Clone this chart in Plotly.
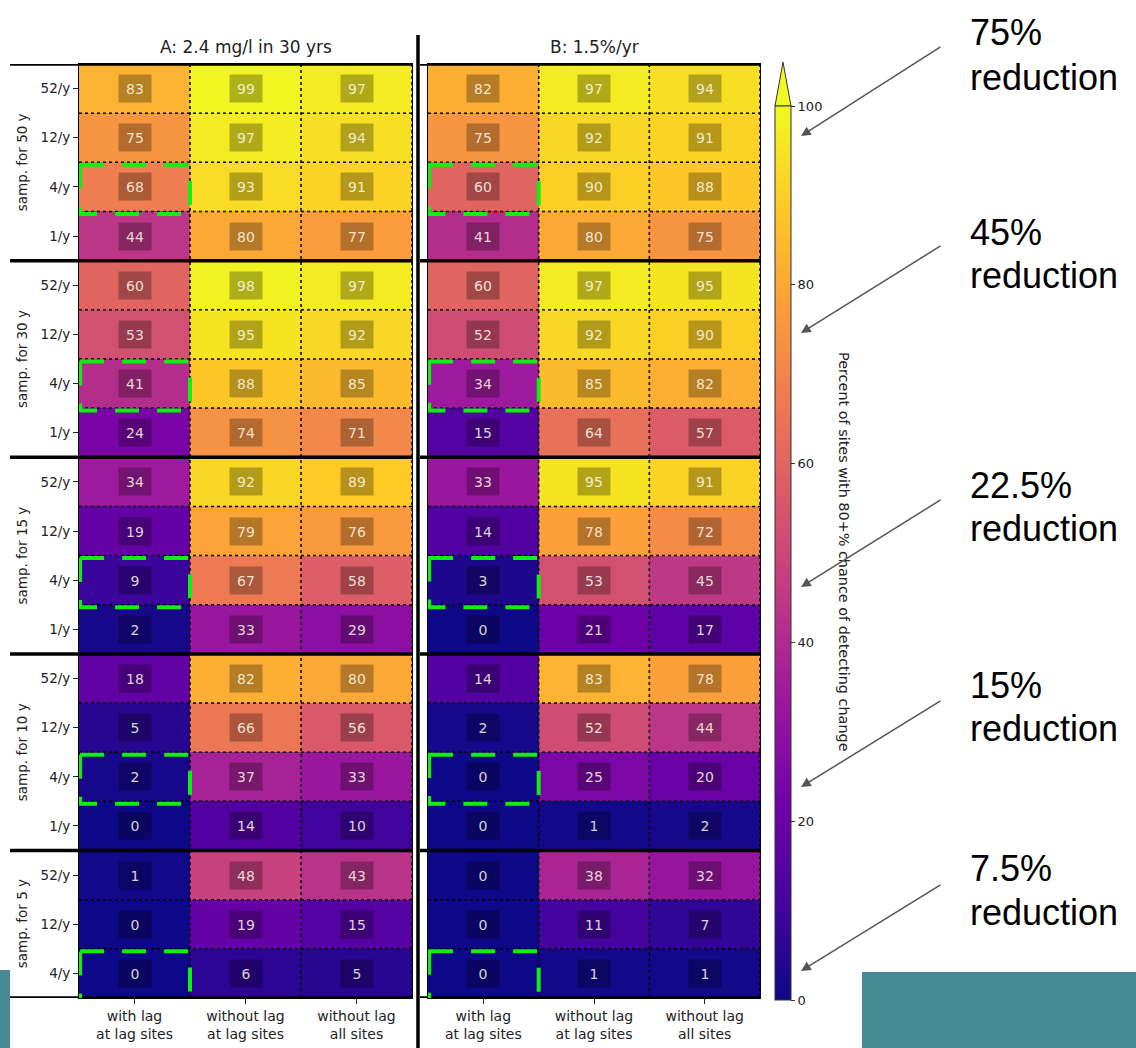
import plotly.graph_objects as go

W, H = 1136, 1048

# ---------------- data ----------------
row_labels = ["52/y", "12/y", "4/y", "1/y",
              "52/y", "12/y", "4/y", "1/y",
              "52/y", "12/y", "4/y", "1/y",
              "52/y", "12/y", "4/y", "1/y",
              "52/y", "12/y", "4/y"]
group_labels = ["samp. for 50 y", "samp. for 30 y", "samp. for 15 y",
                "samp. for 10 y", "samp. for 5 y"]
group_sizes = [4, 4, 4, 4, 3]
col_labels = ["with lag<br>at lag sites", "without lag<br>at lag sites",
              "without lag<br>all sites"]

a_with_lag = [83, 75, 68, 44, 60, 53, 41, 24, 34, 19, 9, 2, 18, 5, 2, 0, 1, 0, 0]
a_nolag_lagsites = [99, 97, 93, 80, 98, 95, 88, 74, 92, 79, 67, 33, 82, 66, 37, 14, 48, 19, 6]
a_nolag_all = [97, 94, 91, 77, 97, 92, 85, 71, 89, 76, 58, 29, 80, 56, 33, 10, 43, 15, 5]

b_with_lag = [82, 75, 60, 41, 60, 52, 34, 15, 33, 14, 3, 0, 14, 2, 0, 0, 0, 0, 0]
b_nolag_lagsites = [97, 92, 90, 80, 97, 92, 85, 64, 95, 78, 53, 21, 83, 52, 25, 1, 38, 11, 1]
b_nolag_all = [94, 91, 88, 75, 95, 90, 82, 57, 91, 72, 45, 17, 78, 44, 20, 2, 32, 7, 1]

panel_titles = ["A: 2.4 mg/l in 30 yrs", "B: 1.5%/yr"]
cbar_title = "Percent of sites with 80+% chance of detecting change"
reductions = ["75%", "45%", "22.5%", "15%", "7.5%"]
# ---------------------------------------

def pxx(x):
    return x / W

def pyy(y):
    return 1 - y / H

n = len(row_labels)
z_a = [[a_with_lag[i], a_nolag_lagsites[i], a_nolag_all[i]] for i in range(n)]
z_b = [[b_with_lag[i], b_nolag_lagsites[i], b_nolag_all[i]] for i in range(n)]

FONT = "DejaVu Sans"
fig = go.Figure()

CB_TOP, CB_BOT = 106, 1000

fig.add_trace(go.Heatmap(
    z=z_a, x=[0, 1, 2], y=list(range(n)), xaxis="x", yaxis="y",
    colorscale="Plasma", zmin=0, zmax=100, showscale=False, hoverinfo="z"))
fig.add_trace(go.Heatmap(
    z=z_b, x=[0, 1, 2], y=list(range(n)), xaxis="x2", yaxis="y2",
    colorscale="Plasma", zmin=0, zmax=100, showscale=True, hoverinfo="z",
    colorbar=dict(
        x=pxx(775), xanchor="left", xpad=0, ypad=0,
        y=pyy(CB_BOT), yanchor="bottom", len=(CB_BOT - CB_TOP) / H,
        lenmode="fraction",
        thickness=16, outlinewidth=1, outlinecolor="#333",
        tickvals=[0, 20, 40, 60, 80, 100], ticks="outside", ticklen=4,
        tickcolor="#333", tickfont=dict(family=FONT, size=13, color="#222"))))

dom_a = [pxx(79), pxx(412)]
dom_b = [pxx(428), pxx(760)]
dom_y = [pyy(998), pyy(64)]

xcommon = dict(range=[-0.5, 2.5], tickvals=[0, 1, 2], ticktext=col_labels,
               ticks="outside", ticklen=5, tickcolor="#222", showgrid=False,
               zeroline=False, showline=True, mirror=True, linecolor="black",
               linewidth=1, tickfont=dict(family=FONT, size=14, color="#222"))
ycommon = dict(range=[n - 0.5, -0.5], domain=dom_y, showgrid=False,
               zeroline=False, showline=True, mirror=True, linecolor="black",
               linewidth=1)

fig.update_layout(
    width=W, height=H, margin=dict(l=0, r=0, t=0, b=0),
    paper_bgcolor="white", plot_bgcolor="white", showlegend=False,
    xaxis=dict(domain=dom_a, anchor="y", **xcommon),
    xaxis2=dict(domain=dom_b, anchor="y2", **xcommon),
    yaxis=dict(anchor="x", tickvals=list(range(n)), ticktext=row_labels,
               ticks="outside", ticklen=5, tickcolor="#222",
               tickfont=dict(family=FONT, size=13.5, color="#222"), **ycommon),
    yaxis2=dict(anchor="x2", showticklabels=False, ticks="", **ycommon),
)

annotations = []
shapes = []

# cell value labels
for xr, yr, z in (("x", "y", z_a), ("x2", "y2", z_b)):
    for r in range(n):
        for c in range(3):
            annotations.append(dict(
                x=c, y=r, xref=xr, yref=yr, text=str(z[r][c]), showarrow=False,
                font=dict(family=FONT, size=14, color="rgba(255,250,235,0.85)"),
                bgcolor="rgba(0,0,0,0.28)", width=30, height=25))

# group boundaries
bounds = [-0.5]
for g in group_sizes:
    bounds.append(bounds[-1] + g)
group_starts = [int(b + 0.5) for b in bounds[:-1]]

# dotted cell grid
for xr, yr in (("x", "y"), ("x2", "y2")):
    for xv in (0.5, 1.5, 2.5):
        shapes.append(dict(type="line", xref=xr, yref=yr, x0=xv, x1=xv,
                           y0=-0.5, y1=n - 0.5,
                           line=dict(color="black", width=1.5, dash="dot")))
    for k in range(n - 1):
        yb = k + 0.5
        if yb in bounds:
            continue
        shapes.append(dict(type="line", xref=xr, yref=yr, x0=-0.5, x1=2.5,
                           y0=yb, y1=yb,
                           line=dict(color="black", width=1.5, dash="dot")))

# thick group separator lines
for yb in bounds:
    shapes.append(dict(type="line", xref="paper", yref="y", x0=pxx(10), x1=pxx(413),
                       y0=yb, y1=yb, line=dict(color="black", width=3.5)))
    shapes.append(dict(type="line", xref="paper", yref="y", x0=pxx(420), x1=pxx(761),
                       y0=yb, y1=yb, line=dict(color="black", width=3.5)))
shapes.append(dict(type="line", xref="paper", yref="paper", x0=pxx(418), x1=pxx(418),
                   y0=pyy(35), y1=0, line=dict(color="black", width=3.5)))

# green dashed highlight boxes around 4/y "with lag" cells
for xr, yr in (("x", "y"), ("x2", "y2")):
    for gi, g0 in enumerate(group_starts):
        r = g0 + 2
        shapes.append(dict(type="rect", xref=xr, yref=yr, x0=-0.49, x1=0.5,
                           y0=r - 0.45, y1=r + 0.55,
                           line=dict(color="#11ee11", width=4, dash="24px,18px"),
                           fillcolor="rgba(0,0,0,0)"))

# group labels
for gi, g0 in enumerate(group_starts):
    yc = g0 + (group_sizes[gi] - 1) / 2
    annotations.append(dict(x=pxx(22), y=yc, xref="paper", yref="y",
                            xanchor="center", yanchor="middle",
                            text=group_labels[gi], textangle=-90, showarrow=False,
                            font=dict(family=FONT, size=13.5, color="#222")))

# panel titles
for title, dom in zip(panel_titles, (dom_a, dom_b)):
    annotations.append(dict(x=(dom[0] + dom[1]) / 2, y=pyy(47), xref="paper",
                            yref="paper", xanchor="center", yanchor="middle",
                            text=title, showarrow=False,
                            font=dict(family=FONT, size=17, color="#222")))

# colorbar title
annotations.append(dict(x=pxx(844), y=pyy(552), xref="paper", yref="paper",
                        xanchor="center", yanchor="middle",
                        text=cbar_title, textangle=90, showarrow=False,
                        font=dict(family=FONT, size=14.4, color="#222")))

# colorbar extend triangle
shapes.append(dict(type="path", xref="paper", yref="paper",
                   path=f"M {pxx(775)},{pyy(CB_TOP)} L {pxx(783)},{pyy(62)} L {pxx(791)},{pyy(CB_TOP)} Z",
                   fillcolor="#f0f921", line=dict(color="#333", width=1)))

# reduction labels with arrows
tips = [(801, 136), (801, 333), (801, 587), (801, 787), (801, 971)]
tails = [(942, 46), (942, 245), (942, 499), (942, 700), (942, 884)]
line1_y = [33, 232, 485, 685, 868]
line2_y = [77, 276, 528, 728, 912]
for lab, tip, tail, l1, l2 in zip(reductions, tips, tails, line1_y, line2_y):
    annotations.append(dict(x=pxx(tip[0]), y=pyy(tip[1]), xref="paper", yref="paper",
                            text="", showarrow=True, arrowhead=2, arrowsize=1.3,
                            arrowwidth=1.5, arrowcolor="#555",
                            ax=tail[0] - tip[0], ay=tail[1] - tip[1]))
    annotations.append(dict(x=pxx(968), y=pyy(l1), xref="paper", yref="paper",
                            xanchor="left", yanchor="middle", text=lab, showarrow=False,
                            font=dict(family="Liberation Sans", size=36, color="black")))
    annotations.append(dict(x=pxx(968), y=pyy(l2), xref="paper", yref="paper",
                            xanchor="left", yanchor="middle", text="reduction",
                            showarrow=False,
                            font=dict(family="Liberation Sans", size=36, color="black")))

# slide background teal blocks
shapes.append(dict(type="rect", xref="paper", yref="paper", x0=0, x1=pxx(10),
                   y0=0, y1=pyy(970), fillcolor="#468a96", line=dict(width=0)))
shapes.append(dict(type="rect", xref="paper", yref="paper", x0=pxx(862), x1=1,
                   y0=0, y1=pyy(972), fillcolor="#468a96", line=dict(width=0)))

fig.update_layout(annotations=annotations, shapes=shapes)
fig.write_html("out.html",
               config={"displayModeBar": False},
               post_script="document.body.style.margin='0px';"
                           "document.body.style.overflow='hidden';")
